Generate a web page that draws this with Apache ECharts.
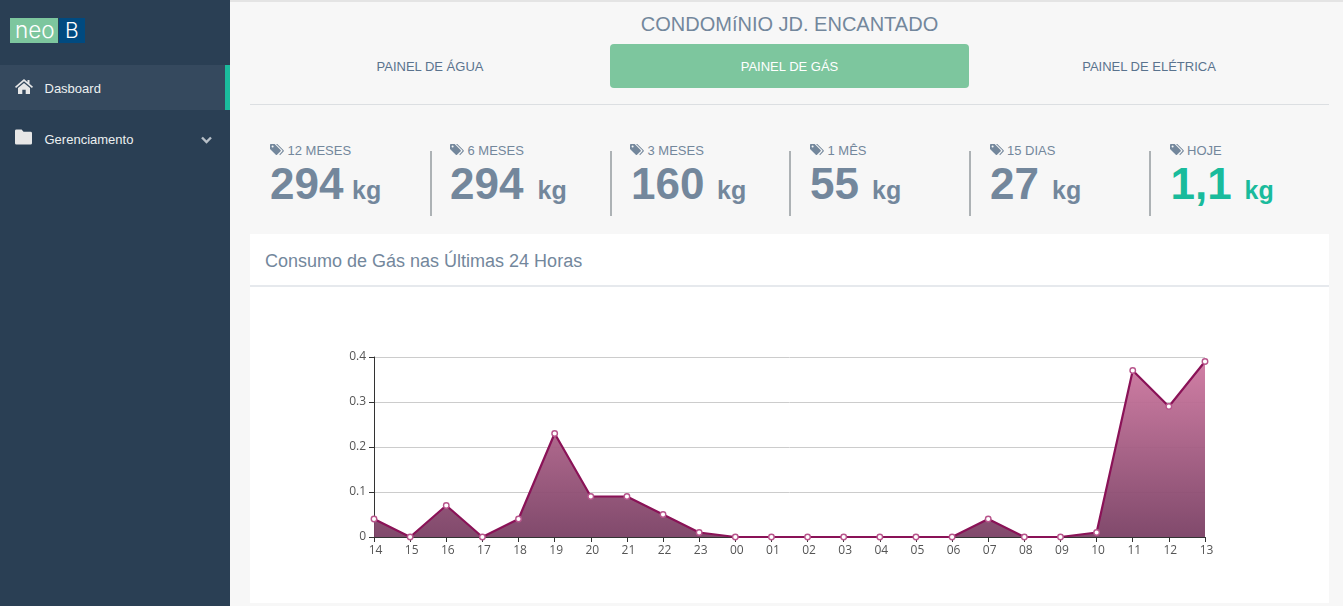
<!DOCTYPE html>
<html><head><meta charset="utf-8">
<script src="https://cdn.jsdelivr.net/npm/echarts@6/dist/echarts.min.js"></script>
<style>
html,body{margin:0;padding:0;width:1343px;height:606px;overflow:hidden;background:#f7f7f7;font-family:"Liberation Sans",Arial,sans-serif;}
.abs{position:absolute;white-space:nowrap;}
#side{position:absolute;left:0;top:0;width:230px;height:606px;background:#2a3f54;}
#active{position:absolute;left:0;top:65px;width:225px;height:45px;background:#35495e;border-right:5px solid #1abb9c;}
#topline{position:absolute;left:230px;top:0;width:1113px;height:2px;background:#e4e4e4;}
.tab{position:absolute;top:44px;height:44px;line-height:45px;text-align:center;font-size:13px;color:#5a738e;}
.stat-label{font-size:13px;color:#73879c;}
.stat-num{font-size:44px;font-weight:bold;color:#73879c;line-height:46px;}
.stat-unit{font-size:25px;font-weight:bold;color:#73879c;line-height:26px;}
.sep{position:absolute;top:151px;width:2px;height:65px;background:#adb2b5;}
#panel{position:absolute;left:250px;top:234px;width:1079px;height:369px;background:#fff;}
#panelrule{position:absolute;left:250px;top:285px;width:1079px;height:2px;background:#e6e9ed;}
#chart{position:absolute;left:250px;top:287px;width:1079px;height:316px;}
</style></head><body>
<div id="side"></div><div id="active"></div><div id="topline"></div>
<div class="abs" style="left:10px;top:18px;width:48px;height:25px;background:#7dc69e;"></div>
<div class="abs" style="left:59px;top:18px;width:26px;height:25px;background:#004a80;"></div>
<div class="abs" style="left:15px;top:17px;font-family:Inter,sans-serif;font-weight:300;font-size:22.5px;line-height:25px;color:#fff;">neo</div>
<div class="abs" style="left:65px;top:18px;font-family:Inter,sans-serif;font-weight:300;font-size:21px;line-height:26px;color:#fff;">B</div>
<svg class="abs" style="left:15px;top:79px" width="18" height="15" viewBox="0 0 18 15"><path d="M9 0 L12.5 3 V1 H14.5 V4.7 L18 7.8 L16.9 9 L9 2.2 L1.1 9 L0 7.8 Z M3 9 L9 3.9 L15 9 V15 H10.7 V10.7 H7.3 V15 H3 Z" fill="#e7e7e7"/></svg>
<svg class="abs" style="left:15px;top:129px" width="17" height="16" viewBox="0 0 18 16"><path d="M1.5 0 H7 L9 2.5 H16.5 A1.5 1.5 0 0 1 18 4 V14.5 A1.5 1.5 0 0 1 16.5 16 H1.5 A1.5 1.5 0 0 1 0 14.5 V1.5 A1.5 1.5 0 0 1 1.5 0 Z" fill="#e7e7e7"/></svg>
<div class="abs" style="left:44.5px;top:80.5px;font-size:13px;line-height:16px;color:#ecf0f1;">Dasboard</div>
<div class="abs" style="left:44.5px;top:131.5px;font-size:13px;line-height:16px;color:#ecf0f1;">Gerenciamento</div>
<svg class="abs" style="left:201px;top:136px" width="11" height="8" viewBox="0 0 11 8"><path d="M1 1.5 L5.5 6 L10 1.5" fill="none" stroke="#b8c0c8" stroke-width="2.4"/></svg>
<div class="abs" style="left:230px;top:12px;width:1119px;text-align:center;font-size:20px;line-height:24px;color:#73879c;">CONDOMíNIO JD. ENCANTADO</div>
<div class="tab" style="left:250px;width:360px;">PAINEL DE ÁGUA</div>
<div class="tab" style="left:610px;width:359px;background:#7dc69e;border-radius:4px;color:#fff;">PAINEL DE GÁS</div>
<div class="tab" style="left:969px;width:360px;">PAINEL DE ELÉTRICA</div>
<div class="abs" style="left:250px;top:104px;width:1079px;height:1px;background:#dcdfe2;"></div>
<div id="stats"></div>
<div id="panel"></div><div id="panelrule"></div>
<div class="abs" style="left:265px;top:250px;font-size:18px;line-height:22px;color:#73879c;">Consumo de Gás nas Últimas 24 Horas</div>
<div id="chart"></div>
<script>
const hours=["14","15","16","17","18","19","20","21","22","23","00","01","02","03","04","05","06","07","08","09","10","11","12","13"];
const gas=[0.04,0,0.07,0,0.04,0.23,0.09,0.09,0.05,0.01,0,0,0,0,0,0,0,0.04,0,0,0.01,0.37,0.29,0.39];
const statLabels=["12 MESES","6 MESES","3 MESES","1 MÊS","15 DIAS","HOJE"];
const statValues=["294","294","160","55","27","1,1"];
const labelX=[270,450,630,810,989.5,1169.5];
const statX=[270,450,631,810,990,1170.5];
const unitX=[352,537.5,717,872,1052,1244.5];
const sepX=[430,610,789,969,1149];
let h='';
const tag='<svg width="15" height="12" viewBox="0 0 15 12" style="position:absolute;left:0;top:1px"><path d="M0 0.8 Q0 0 0.8 0 H4.6 L10.6 6 Q11.2 6.6 10.6 7.2 L7 10.8 Q6.4 11.4 5.8 10.8 L0 5 Z" fill="#73879c"/><path d="M6 0 H7.3 L13.6 6.3 Q14.2 6.9 13.6 7.5 L10 11.2 L9.3 10.5 L12.3 7.2 Q12.8 6.7 12.3 6.2 Z" fill="#73879c"/><circle cx="2.6" cy="2.6" r="1" fill="#f7f7f7"/></svg>';
statLabels.forEach((l,i)=>{
 const c=i===5?'#1abb9c':'#73879c';
 h+=`<div class="abs stat-label" style="left:${labelX[i]}px;top:143px;height:16px;line-height:16px;padding-left:17.5px;">${tag}${l}</div>`;
 h+=`<div class="abs stat-num" style="left:${statX[i]}px;top:161px;color:${c}">${statValues[i]}</div>`;
 h+=`<div class="abs stat-unit" style="left:${unitX[i]}px;top:177px;color:${c}">kg</div>`;
});
sepX.forEach(x=>{h+=`<div class="sep" style="left:${x}px"></div>`;});
document.getElementById('stats').innerHTML=h;
const chart=echarts.init(document.getElementById('chart'),null,{renderer:'canvas'});
chart.setOption({
 animation:false,
 grid:{left:124,right:124,top:70,height:180,containLabel:false},
 xAxis:{type:'category',data:hours,boundaryGap:false,
  axisLine:{show:true,lineStyle:{color:'#333',width:1}},
  axisTick:{show:true,alignWithLabel:true,length:5,lineStyle:{color:'#333'}},
  axisLabel:{show:true,interval:0,color:'#555',fontFamily:'Open Sans',fontSize:12,margin:8,padding:[0,0,0,3],showMinLabel:true,showMaxLabel:true},
  splitLine:{show:false}},
 yAxis:{type:'value',min:0,max:0.4,interval:0.1,
  axisLine:{show:true,lineStyle:{color:'#333',width:1}},
  axisTick:{show:true,length:5,lineStyle:{color:'#333'}},
  axisLabel:{color:'#555',fontFamily:'Open Sans',fontSize:12,margin:8},
  splitLine:{show:true,lineStyle:{color:'#ccc',width:1}}},
 series:[{type:'line',data:gas,smooth:false,showSymbol:true,symbol:'circle',symbolSize:5.5,clip:false,
  lineStyle:{color:'#8a1257',width:2.2},
  itemStyle:{color:'#fff',borderColor:'#b8558c',borderWidth:1.4},
  areaStyle:{opacity:1,color:new echarts.graphic.LinearGradient(0,0,0,1,[{offset:0,color:'rgba(206,120,160,0.95)'},{offset:1,color:'rgba(122,64,100,0.95)'}])}
 }]
});
</script>
</body></html>
